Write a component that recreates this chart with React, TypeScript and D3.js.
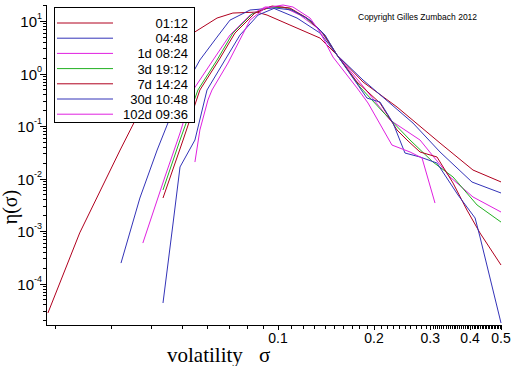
import React from 'react';
import * as d3 from 'd3';

const seriesLabels = ["01:12", "04:48", "1d 08:24", "3d 19:12", "7d 14:24", "30d 10:48", "102d 09:36"];
const seriesColors = ["#b0001e", "#3333b8", "#e020e0", "#22b022", "#b0001e", "#3333b8", "#e020e0"];

const sigma0112 = [0.0190, 0.0239, 0.0320, 0.0418, 0.0459, 0.0542, 0.0644, 0.0722, 0.0859, 0.0924, 0.109, 0.1354, 0.1531, 0.1847, 0.2361, 0.322, 0.4085, 0.5];
const eta0112 = [2.74e-5, 9.2e-4, 0.0349, 0.858, 1.81, 5.91, 11.4, 14.2, 14.8, 13.0, 8.39, 4.74, 2.25, 0.689, 0.230, 0.0474, 0.0145, 0.0086];

const sigma0448 = [0.0322, 0.0369, 0.0418, 0.0469, 0.0519, 0.0569, 0.0644, 0.0707, 0.0817, 0.0965, 0.1147, 0.1354, 0.1531, 0.1847, 0.2649, 0.322, 0.4056, 0.5];
const eta0448 = [2.45e-4, 4.25e-3, 0.0349, 0.2017, 0.659, 1.81, 4.95, 10.4, 16.2, 17.7, 11.4, 5.91, 2.25, 0.752, 0.114, 0.032, 0.00857, 0.0053];

const sigma1d = [0.0377, 0.0442, 0.0493, 0.0542, 0.0626, 0.0707, 0.0817, 0.0911, 0.1037, 0.1172, 0.1354, 0.1531, 0.1834, 0.2244, 0.2787, 0.346, 0.4085, 0.5];
const eta1d = [5.9e-4, 0.0107, 0.0736, 0.485, 1.81, 5.41, 13.0, 18.5, 18.5, 13.0, 6.74, 2.25, 0.604, 0.130, 0.0541, 0.0107, 0.00445, 0.0023];

const sigma3d = [0.0436, 0.0493, 0.0561, 0.0644, 0.0722, 0.0829, 0.0944, 0.1075, 0.1215, 0.1374, 0.1531, 0.1807, 0.2134, 0.2593, 0.306, 0.3537, 0.4207, 0.5];
const eta3d = [0.00604, 0.0541, 0.485, 1.81, 5.91, 13.6, 18.5, 17.7, 11.9, 6.17, 2.25, 0.553, 0.185, 0.0541, 0.0206, 0.0107, 0.00313, 0.00148];

const sigma7d = [0.0436, 0.0504, 0.0569, 0.0653, 0.0733, 0.0847, 0.0958, 0.109, 0.1233, 0.1384, 0.1531, 0.1769, 0.2088, 0.2361, 0.2537, 0.2787, 0.315, 0.3537, 0.391, 0.4297, 0.5];
const eta7d = [0.00425, 0.0541, 0.485, 1.81, 5.91, 14.2, 19.3, 17.7, 11.4, 5.91, 2.25, 0.689, 0.274, 0.0839, 0.0541, 0.032, 0.0257, 0.0082, 0.00251, 0.000916, 0.000225];

const sigma30d = [0.0436, 0.0469, 0.0493, 0.0549, 0.0599, 0.0682, 0.076, 0.0866, 0.0978, 0.1106, 0.126, 0.1404, 0.1531, 0.19, 0.2088, 0.2294, 0.25, 0.2787, 0.315, 0.3666, 0.4147, 0.4297, 0.5];
const eta30d = [4.25e-5, 0.00142, 0.0166, 0.0541, 0.485, 1.81, 5.41, 13.0, 17.7, 16.2, 10.4, 5.41, 2.25, 0.341, 0.286, 0.114, 0.0306, 0.0257, 0.0197, 0.00485, 0.00177, 0.000769, 1.77e-5];

const sigma102d = [0.0549, 0.0569, 0.0603, 0.0621, 0.0697, 0.0817, 0.0911, 0.1037, 0.1114, 0.126, 0.1354, 0.1487, 0.1769, 0.1915, 0.2276, 0.2593, 0.2828, 0.3105];
const eta102d = [0.0206, 0.0839, 0.313, 0.485, 1.585, 10.4, 17.7, 20.2, 18.5, 11.4, 6.17, 2.06, 0.530, 0.274, 0.0434, 0.032, 0.0246, 0.00341];

const seriesSigma = [sigma0112, sigma0448, sigma1d, sigma3d, sigma7d, sigma30d, sigma102d];
const seriesEta = [eta0112, eta0448, eta1d, eta3d, eta7d, eta30d, eta102d];

const xMajorTicks = [0.1, 0.2, 0.3, 0.4, 0.5];
const xTickLabels = ["0.1", "0.2", "0.3", "0.4", "0.5"];
const yMajorExponents = [-4, -3, -2, -1, 0, 1];

const xDomain = [0.01874, 0.5];
const yDomain = [1.62e-5, 20.2];

export default function App() {
  const W = 512, H = 366;
  const x = d3.scaleLog().domain(xDomain).range([46, 501]);
  const y = d3.scaleLog().domain(yDomain).range([325, 5]);

  const line = d3.line<[number, number]>().x(d => x(d[0])).y(d => y(d[1]));

  // x minor ticks
  const xMinor: number[] = [];
  for (let i = 2; i <= 30; i++) xMinor.push(i / 100);
  for (let i = 61; i <= 100; i++) xMinor.push(i / 200);
  // y minor ticks
  const yMinor: number[] = [];
  for (let k = -5; k <= 1; k++) {
    for (let m = 2; m <= 9; m++) {
      const v = m * Math.pow(10, k);
      if (v >= yDomain[0] && v <= yDomain[1]) yMinor.push(v);
    }
  }

  const legendY0 = 23, legendDy = 15.2;

  return (
    <svg width={W} height={H} style={{ position: 'absolute', left: 0, top: 0, background: '#fff' }}
      fontFamily="'Liberation Sans', Arial, sans-serif">
      <rect x={0} y={0} width={W} height={H} fill="#fff" />
      <defs>
        <clipPath id="plotClip">
          <rect x={46} y={0} width={460} height={326} />
        </clipPath>
      </defs>

      {/* curves */}
      <g clipPath="url(#plotClip)" fill="none" strokeWidth={1}>
        {seriesSigma.map((sig, i) => {
          const pts = sig.map((s, j) => [s, seriesEta[i][j]] as [number, number]);
          return <path key={i} d={line(pts) || ''} stroke={seriesColors[i]} />;
        })}
      </g>

      {/* axes */}
      <g stroke="#000" strokeWidth={1} shapeRendering="crispEdges">
        <line x1={46} y1={5} x2={46} y2={325.5} />
        <line x1={46} y1={325} x2={501} y2={325} />
        {xMinor.map((v, i) => (
          <line key={'xm' + i} x1={Math.round(x(v)) + 0.5} x2={Math.round(x(v)) + 0.5} y1={325} y2={329} />
        ))}
        {xMajorTicks.map((v, i) => (
          <line key={'xM' + i} x1={Math.round(x(v)) + 0.5} x2={Math.round(x(v)) + 0.5} y1={325} y2={330} />
        ))}
        {yMinor.map((v, i) => (
          <line key={'ym' + i} x1={43} x2={46} y1={Math.round(y(v)) + 0.5} y2={Math.round(y(v)) + 0.5} />
        ))}
        {yMajorExponents.map((e, i) => (
          <line key={'yM' + i} x1={40} x2={46} y1={Math.round(y(Math.pow(10, e))) + 0.5} y2={Math.round(y(Math.pow(10, e))) + 0.5} />
        ))}
      </g>

      {/* x tick labels */}
      {xMajorTicks.map((v, i) => (
        <text key={'xl' + i} x={x(v)} y={343} fontSize={14} textAnchor="middle" fill="#000">{xTickLabels[i]}</text>
      ))}

      {/* y tick labels */}
      {yMajorExponents.map((e, i) => (
        <text key={'yl' + i} x={42} y={y(Math.pow(10, e)) + 6} textAnchor="end" fill="#000" fontSize={15}>
          10<tspan fontSize={9} dy={-8}>{String(e)}</tspan>
        </text>
      ))}

      {/* axis titles */}
      <text x={167} y={362} fontFamily="'Liberation Serif', 'Times New Roman', serif" fontSize={21} fill="#000">volatility</text>
      <text x={259} y={362} fontFamily="'Liberation Serif', 'Times New Roman', serif" fontSize={21} fill="#000">σ</text>
      <text transform="translate(17,207) rotate(-90)" textAnchor="middle"
        fontFamily="'Liberation Serif', 'Times New Roman', serif" fontSize={20} fill="#000">η(σ)</text>

      {/* copyright */}
      <text x={358} y={20} fontSize={8.5} fill="#000">Copyright Gilles Zumbach 2012</text>

      {/* legend */}
      <rect x={54.5} y={7.5} width={140} height={115} fill="#fff" stroke="#000" strokeWidth={1} shapeRendering="crispEdges" />
      {seriesLabels.map((lab, i) => {
        const ly = legendY0 + i * legendDy;
        return (
          <g key={'lg' + i}>
            <line x1={57} x2={113} y1={ly} y2={ly} stroke={seriesColors[i]} strokeWidth={1} />
            <text x={188} y={ly + 5} fontSize={13} textAnchor="end" fill="#000">{lab}</text>
          </g>
        );
      })}
    </svg>
  );
}
